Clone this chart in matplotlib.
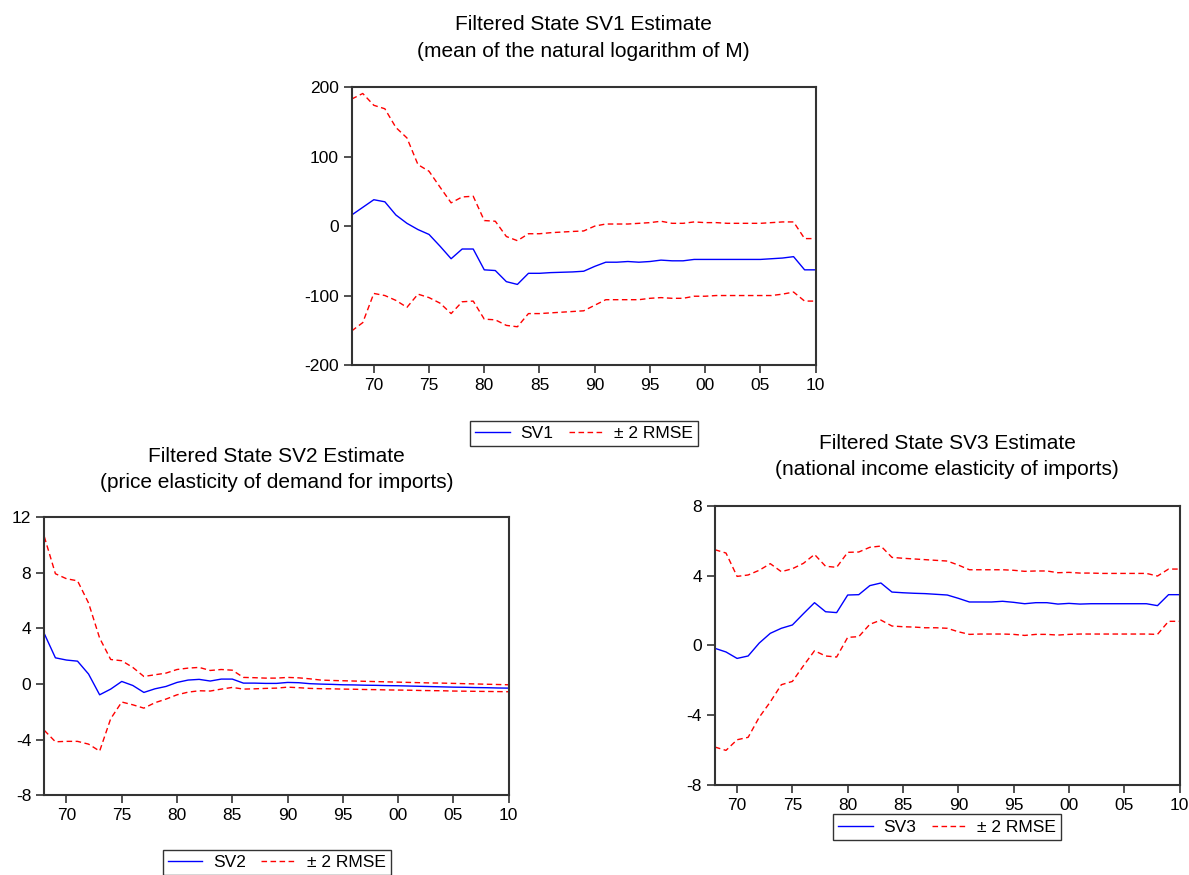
import matplotlib
matplotlib.use("Agg")
from matplotlib import pyplot as plt
from matplotlib.ticker import FixedLocator

plt.rcParams['font.family'] = ['Liberation Sans', 'DejaVu Sans']
plt.rcParams['axes.unicode_minus'] = False

years = list(range(1968, 2011))

# SV1: mean of ln(M)
sv1 = [16, 27, 38, 35, 16, 4, -5, -12, -29, -47, -33, -33, -63, -64, -80, -84,
       -68, -68, -67, -66.5, -66, -65, -58, -52, -52, -51, -52, -51, -49, -50,
       -50, -48, -48, -48, -48, -48, -48, -48, -47, -46, -44, -63, -63]
sv1_hi = [183, 191, 174, 169, 142, 127, 88.5, 79, 56, 33.5, 42, 43, 8, 7, -15, -21,
          -11, -11, -9.5, -8.6, -7.7, -7, 0, 3, 3, 3, 4, 5, 7, 4,
          4, 6, 5, 5, 4, 4, 4, 4, 5, 6, 6, -18, -18]
sv1_lo = [-151, -139, -97, -100, -107, -117, -98, -103, -111, -126, -109, -108, -134, -135, -143, -145,
          -126, -126, -125, -124, -123, -122, -114, -106, -106, -106, -106, -104, -103, -104,
          -104, -101, -101, -100, -100, -100, -100, -100, -100, -98, -95, -108, -108]

# SV2: price elasticity
sv2 = [3.62, 1.89, 1.73, 1.65, 0.72, -0.77, -0.36, 0.19, -0.10, -0.60, -0.34, -0.17, 0.12, 0.29, 0.34, 0.22,
       0.36, 0.36, 0.07, 0.07, 0.05, 0.05, 0.12, 0.10, 0.03, 0.0, -0.02, -0.05, -0.06, -0.08,
       -0.09, -0.11, -0.12, -0.14, -0.16, -0.18, -0.20, -0.22, -0.23, -0.25, -0.26, -0.28, -0.29]
sv2_hi = [10.6, 7.94, 7.58, 7.43, 5.83, 3.31, 1.77, 1.68, 1.20, 0.55, 0.67, 0.79, 1.05, 1.15, 1.20, 0.98,
          1.05, 1.00, 0.48, 0.46, 0.43, 0.43, 0.48, 0.45, 0.38, 0.29, 0.26, 0.24, 0.22, 0.20,
          0.18, 0.16, 0.14, 0.12, 0.10, 0.08, 0.07, 0.05, 0.03, 0.01, -0.01, -0.03, -0.05]
sv2_lo = [-3.33, -4.15, -4.12, -4.12, -4.32, -4.82, -2.49, -1.29, -1.49, -1.73, -1.34, -1.08, -0.77, -0.58, -0.48, -0.50,
          -0.36, -0.24, -0.36, -0.34, -0.31, -0.29, -0.22, -0.26, -0.31, -0.33, -0.34, -0.36, -0.37, -0.39,
          -0.40, -0.42, -0.43, -0.44, -0.46, -0.47, -0.48, -0.50, -0.51, -0.52, -0.53, -0.54, -0.55]

# SV3: national income elasticity
sv3 = [-0.17, -0.38, -0.75, -0.61, 0.13, 0.69, 0.98, 1.17, 1.82, 2.45, 1.93, 1.88, 2.89, 2.91, 3.43, 3.58,
       3.06, 3.02, 2.99, 2.97, 2.93, 2.89, 2.70, 2.49, 2.49, 2.49, 2.53, 2.47, 2.39, 2.45,
       2.45, 2.37, 2.41, 2.37, 2.39, 2.39, 2.39, 2.39, 2.39, 2.39, 2.28, 2.91, 2.91]
sv3_hi = [5.49, 5.30, 3.96, 4.04, 4.31, 4.69, 4.23, 4.40, 4.71, 5.22, 4.54, 4.48, 5.34, 5.36, 5.63, 5.70,
          5.05, 5.00, 4.96, 4.92, 4.88, 4.84, 4.61, 4.34, 4.34, 4.34, 4.34, 4.31, 4.25, 4.27,
          4.27, 4.17, 4.19, 4.15, 4.15, 4.13, 4.13, 4.13, 4.13, 4.13, 3.98, 4.38, 4.38]
sv3_lo = [-5.84, -6.03, -5.42, -5.28, -4.13, -3.25, -2.26, -2.07, -1.17, -0.31, -0.61, -0.67, 0.46, 0.50, 1.21, 1.45,
          1.11, 1.07, 1.05, 1.01, 1.01, 0.98, 0.78, 0.63, 0.65, 0.65, 0.65, 0.63, 0.57, 0.63,
          0.63, 0.59, 0.63, 0.65, 0.65, 0.65, 0.65, 0.65, 0.65, 0.65, 0.63, 1.38, 1.38]

xticks = list(range(1970, 2011, 5))
xlabels = ["%02d" % (y % 100) for y in xticks]

fig = plt.figure(figsize=(11.89, 8.75), dpi=100)


def panel(rect, title, name, est, hi, lo, yticks, legend_y, title_pad):
    ax = fig.add_axes(rect)
    ax.plot(years, est, color='#0000ff', lw=1.0, label=name)
    ax.plot(years, hi, color='#ff0000', lw=1.0, ls=(0, (4, 2.5)), label='± 2 RMSE')
    ax.plot(years, lo, color='#ff0000', lw=1.0, ls=(0, (4, 2.5)))
    ax.set_xlim(1968, 2010)
    ax.set_ylim(yticks[0], yticks[-1])
    ax.xaxis.set_major_locator(FixedLocator(xticks))
    ax.set_xticklabels(xlabels)
    ax.set_yticks(yticks)
    ax.tick_params(axis='both', direction='out', length=6, width=1.2,
                   labelsize=12.5, color='#333333')
    for s in ax.spines.values():
        s.set_linewidth(1.5)
        s.set_color('#333333')
    ax.set_title(title, fontsize=15, pad=title_pad, linespacing=1.5)
    leg = ax.legend(loc='upper center', bbox_to_anchor=(0.5, legend_y), ncol=2,
                    fontsize=12.5, frameon=True, fancybox=False, handlelength=2.0,
                    columnspacing=0.9, borderpad=0.3, handletextpad=0.6)
    leg.get_frame().set_edgecolor('black')
    leg.get_frame().set_linewidth(1.0)
    return ax


panel([0.2958, 0.5829, 0.3902, 0.3174],
      "Filtered State SV1 Estimate\n(mean of the natural logarithm of M)",
      "SV1", sv1, sv1_hi, sv1_lo, [-200, -100, 0, 100, 200], -0.17, 22)
panel([0.0373, 0.0911, 0.3906, 0.3177],
      "Filtered State SV2 Estimate\n(price elasticity of demand for imports)",
      "SV2", sv2, sv2_hi, sv2_lo, [-8, -4, 0, 4, 8, 12], -0.165, 21)
panel([0.6013, 0.1032, 0.3908, 0.3185],
      "Filtered State SV3 Estimate\n(national income elasticity of imports)",
      "SV3", sv3, sv3_hi, sv3_lo, [-8, -4, 0, 4, 8], -0.075, 22)

plt.savefig("out.png", dpi=100)
